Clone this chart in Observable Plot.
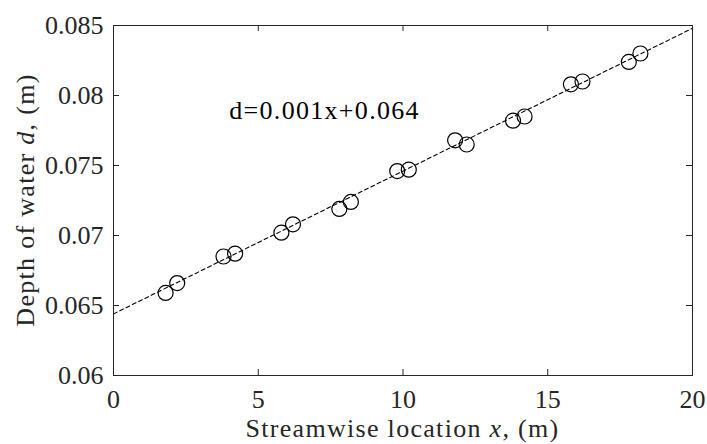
<!DOCTYPE html>
<html><head><meta charset="utf-8">
<script src="https://cdn.jsdelivr.net/npm/d3@7"></script>
<script src="https://cdn.jsdelivr.net/npm/@observablehq/plot@0.6"></script>
<style>body{margin:0;background:#fff} svg{display:block} svg text{font-family:"Liberation Serif", serif !important;}</style>
</head><body><div id="chart"></div>
<script>
// Data
const xLoc = [1.8, 2.2, 3.8, 4.2, 5.8, 6.2, 7.8, 8.2, 9.8, 10.2, 11.8, 12.2, 13.8, 14.2, 15.8, 16.2, 17.8, 18.2];
const depth = [0.0659, 0.0666, 0.0685, 0.0687, 0.0702, 0.0708, 0.0719, 0.0724, 0.0746, 0.0747, 0.0768, 0.0765, 0.0782, 0.0785, 0.0808, 0.0810, 0.0824, 0.0830];
const fitX = [0, 20];
const fitY = [0.0644, 0.0848];
const xTicks = [0, 5, 10, 15, 20];
const yTicks = [0.06, 0.065, 0.07, 0.075, 0.08, 0.085];
const yTickLabels = ["0.06", "0.065", "0.07", "0.075", "0.08", "0.085"];
const annX = [4.0];
const annY = [0.07832];
const annText = ["d=0.001x+0.064"];

const points = xLoc.map((x, i) => ({x, y: depth[i]}));
const fit = fitX.map((x, i) => ({x, y: fitY[i]}));
const ann = annX.map((x, i) => ({x, y: annY[i], t: annText[i]}));

const W = 707, H = 444, mL = 113, mR = 15, mT = 25, mB = 69;
const fw = W - mL - mR, fh = H - mT - mB;
const ink = "#262626";
const serif = "Liberation Serif";

const chart = Plot.plot({
  width: W, height: H,
  marginLeft: mL, marginRight: mR, marginTop: mT, marginBottom: mB,
  style: {fontFamily: serif, fontSize: "26px", color: ink, background: "#fff"},
  x: {domain: [0, 20]},
  y: {domain: [0.06, 0.085]},
  marks: [
    Plot.line(fit, {x: "x", y: "y", stroke: "#000", strokeWidth: 1.1, strokeDasharray: "4,3"}),
    Plot.dot(points, {x: "x", y: "y", r: 7.5, stroke: "#000", fill: "none", strokeWidth: 1.2}),
    Plot.text(ann, {x: "x", y: "y", text: "t", textAnchor: "start", lineAnchor: "bottom", fontSize: 26, fontFamily: serif, fill: "#000"}),
    Plot.tickX(xTicks, {x: d => d, insetTop: fh - 6, stroke: ink}),
    Plot.tickX(xTicks, {x: d => d, insetBottom: fh - 6, stroke: ink}),
    Plot.tickY(yTicks, {y: d => d, insetRight: fw - 6, stroke: ink}),
    Plot.tickY(yTicks, {y: d => d, insetLeft: fw - 6, stroke: ink}),
    Plot.frame({stroke: ink, strokeWidth: 1}),
    Plot.axisX({ticks: xTicks, tickSize: 0, tickPadding: 14, tickFormat: d => String(d), label: null, fontSize: 26, fontFamily: serif}),
    Plot.axisY({ticks: yTicks, tickSize: 0, tickPadding: 10, tickFormat: d => yTickLabels[yTicks.indexOf(d)], label: null, fontSize: 26, fontFamily: serif})
  ]
});

const svg = d3.select(chart);
svg.selectAll("g[aria-label='text'] text").style("letter-spacing", "1.3px");

const xl = svg.append("text")
  .attr("x", mL + fw / 2).attr("y", 437)
  .attr("text-anchor", "middle").attr("fill", ink)
  .style("font-size", "26px").style("letter-spacing", "1.3px");
xl.append("tspan").text("Streamwise location ");
xl.append("tspan").attr("font-style", "italic").text("x");
xl.append("tspan").text(", (m)");

const yl = svg.append("text")
  .attr("transform", `translate(34,${mT + fh / 2}) rotate(-90)`)
  .attr("text-anchor", "middle").attr("fill", ink)
  .style("font-size", "26px").style("letter-spacing", "1.3px");
yl.append("tspan").text("Depth of water ");
yl.append("tspan").attr("font-style", "italic").text("d");
yl.append("tspan").text(", (m)");

document.getElementById("chart").appendChild(chart);
</script>
</body></html>
